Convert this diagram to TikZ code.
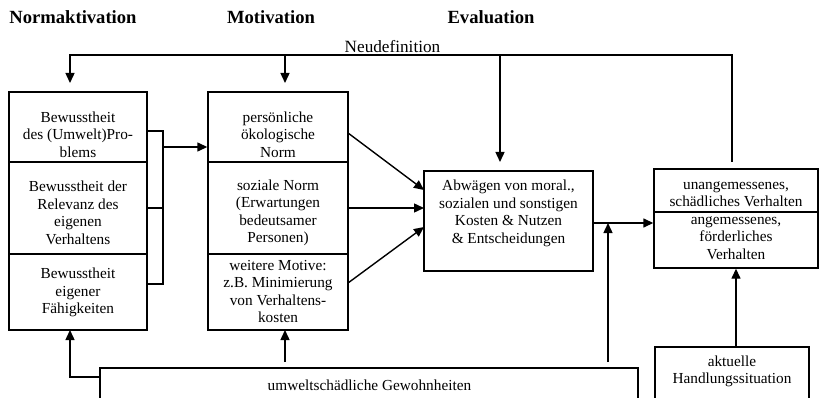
\documentclass[tikz,border=0pt]{standalone}
\usepackage{fontspec}
\setmainfont{Liberation Serif}
\usetikzlibrary{arrows.meta}
\begin{document}
\begin{tikzpicture}[x=1pt,y=-1pt,
  ln/.style={line width=1.4pt},
  arr/.style={line width=1.4pt,-{Triangle[length=10pt,width=9pt]}},
  sec/.style={draw,line width=1.4pt,inner sep=0pt,minimum width=#1},
  txt/.style={align=center,inner sep=0pt,font=\fontsize{15.3}{17.5}\selectfont},
  head/.style={anchor=base,inner sep=0pt,font=\fontsize{18.6}{21}\selectfont\bfseries}]
\useasboundingbox (0,0) rectangle (819,398);
% headers
\node[head] (h1) at (73,24) {Normaktivation};
\node[head] (h2) at (271,24) {Motivation};
\node[head] (h3) at (491,24) {Evaluation};
% left column
\node[sec=138,minimum height=70] (L1) at (78,127) {};
\node[sec=138,minimum height=92] (L2) at (78,208) {};
\node[sec=138,minimum height=76] (L3) at (78,292) {};
\node[txt] (tL1) at (78,134.5) {Bewusstheit\\des (Umwelt)Pro-\\blems};
\node[txt] (tL2) at (78,213) {Bewusstheit der\\Relevanz des\\eigenen\\Verhaltens};
\node[txt] (tL3) at (78,292.5) {Bewusstheit\\eigener\\Fähigkeiten};
% middle column
\node[sec=140,minimum height=70] (M1) at (278,127) {};
\node[sec=140,minimum height=92] (M2) at (278,208) {};
\node[sec=140,minimum height=76] (M3) at (278,292) {};
\node[txt] (tM1) at (278,134.5) {persönliche\\ökologische\\Norm};
\node[txt] (tM2) at (278,213) {soziale Norm\\(Erwartungen\\bedeutsamer\\Personen)};
\node[txt] (tM3) at (278,291.5) {weitere Motive:\\z.B. Minimierung\\von Verhaltens-\\kosten};
% evaluation
\node[sec=169,minimum height=100] (A) at (508.5,221) {};
\node[txt] (tA) at (508.5,213.5) {Abwägen von moral.,\\sozialen und sonstigen\\Kosten \& Nutzen\\\& Entscheidungen};
% behaviour
\node[sec=164,minimum height=43] (R1) at (736,190.5) {};
\node[sec=164,minimum height=56] (R2) at (736,240) {};
\node[txt] (tR1) at (736,194) {unangemessenes,\\schädliches Verhalten};
\node[txt] (tR2) at (736,238) {angemessenes,\\förderliches\\Verhalten};
% open boxes at the bottom
\draw[ln] (655,402) -- (655,347) coordinate (Hl) -- (809,347) coordinate (Hr) -- (809,402);
\coordinate (Htop) at (732,347);
\node[txt] (tH) at (732,371.5) {aktuelle\\Handlungssituation};
\draw[ln] (100,402) -- (100,368) coordinate (Gl) -- (638,368) coordinate (Gr) -- (638,402);
\node[txt] (tG) at (369.5,385) {umweltschädliche Gewohnheiten};
% left bracket
\coordinate (bTop) at (163,131);
\coordinate (bMid) at (163,208);
\coordinate (bBot) at (163,284);
\coordinate (bOut) at (163,147);
\draw[ln] (L1.east |- bTop) -- (bTop) -- (bBot) -- (L3.east |- bBot);
\draw[ln] (L2.east |- bMid) -- (bMid);
\draw[arr] (bOut) -- (M1.west |- bOut);
% middle to evaluation
\coordinate (m1s) at (348,133);
\coordinate (m3s) at (348,283);
\coordinate (a1) at (424,190);
\coordinate (a2) at (424,208);
\coordinate (a3) at (424,227);
\draw[arr] (m1s) -- (a1);
\draw[arr] (M2.east) -- (a2);
\draw[arr] (m3s) -- (a3);
% evaluation to behaviour
\coordinate (J) at (608,223);
\draw[arr] (A.east |- J) -- (R2.west |- J);
\coordinate (Gj) at (608,362);
\draw[arr] (Gj) -- (J);
\draw[arr] (Htop) -- (R2.south |- Htop) -- (R2.south);
% Neudefinition loop
\coordinate (n0) at (732,162);
\coordinate (n1) at (732,55);
\coordinate (n2) at (70,55);
\coordinate (n3) at (70,83);
\coordinate (n4) at (285,55);
\coordinate (n5) at (285,83);
\coordinate (n6) at (500,55);
\coordinate (n7) at (500,162);
\draw[arr] (n0) -- (n1) -- (n2) -- (n3);
\draw[arr] (n4) -- (n5);
\draw[arr] (n6) -- (n7);
\node[anchor=base,inner sep=0pt,font=\fontsize{17.2}{19}\selectfont] (nd) at (392.5,53) {Neudefinition};
% habits to left and middle
\coordinate (g1) at (100,377);
\coordinate (g2) at (70,377);
\coordinate (g3) at (70,330);
\coordinate (g4) at (285,362);
\coordinate (g5) at (285,330);
\draw[arr] (g1) -- (g2) -- (g3);
\draw[arr] (g4) -- (g5);
\end{tikzpicture}
\end{document}
